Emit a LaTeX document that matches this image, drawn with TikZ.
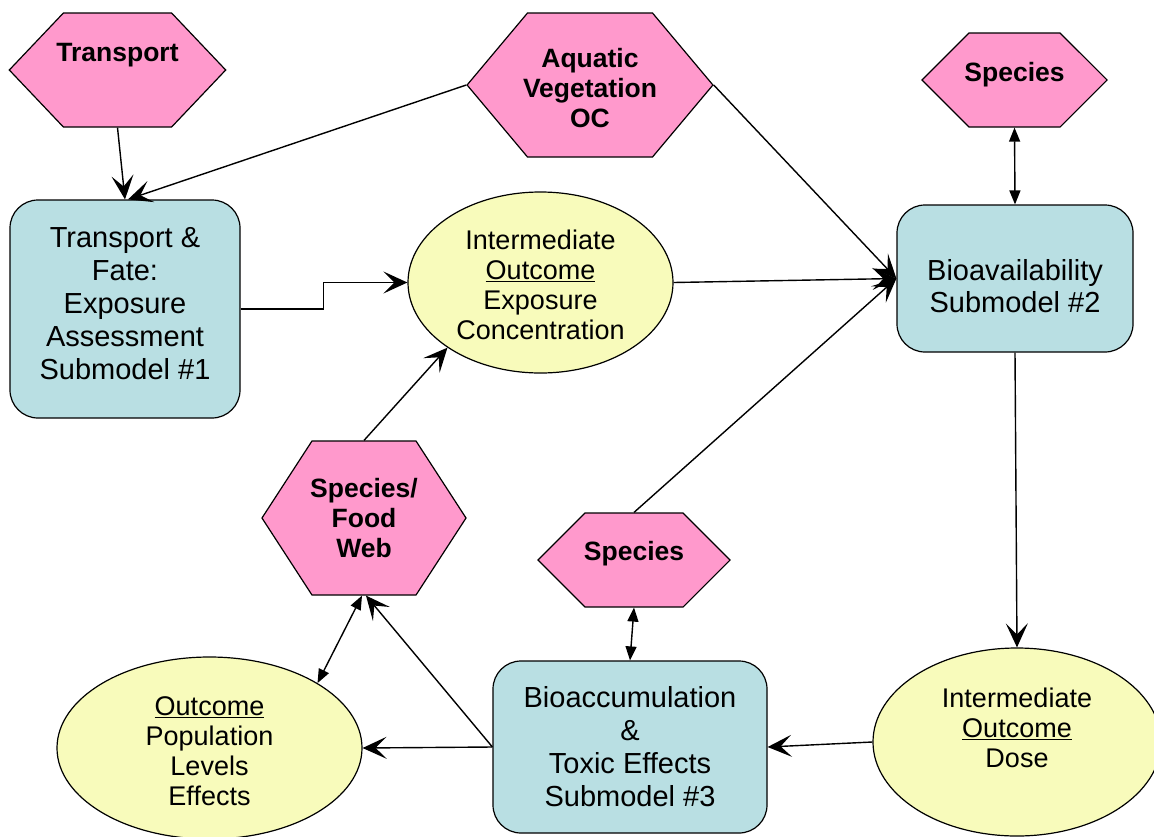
\documentclass[tikz,border=0pt]{standalone}
\usepackage{fontspec}
\setmainfont{Liberation Sans}
\usetikzlibrary{shapes.geometric,shapes.symbols,arrows.meta}
\definecolor{hexpink}{HTML}{FF99CC}
\definecolor{boxblue}{HTML}{B9DFE3}
\definecolor{ovalyel}{HTML}{F8FBBB}
\tikzset{
  hexnode/.style={shape=signal, signal to=west and east, draw=black, line width=1.2pt,
    fill=hexpink, font=\bfseries\fontsize{26.5}{30}\selectfont, align=center, inner ysep=0pt},
  boxnode/.style={rectangle, rounded corners=28pt, draw=black, line width=1.2pt, fill=boxblue,
    font=\fontsize{29}{33}\selectfont, align=center, inner sep=0pt},
  ovalnode/.style={ellipse, draw=black, line width=1.2pt, fill=ovalyel,
    font=\fontsize{27}{30}\selectfont, align=center, inner sep=0pt},
  conn/.style={line width=1.4pt, -{Stealth[length=24pt,width=22pt,inset=11pt]}},
  dbl/.style={line width=1.4pt, {Triangle[length=14pt,width=11pt]}-{Triangle[length=14pt,width=11pt]}}
}
\begin{document}
\begin{tikzpicture}[x=1pt,y=-1pt]
\path[use as bounding box] (0,0) rectangle (1154,836);

% hexagons
\node[hexnode, inner xsep=-7pt, minimum height=114pt, signal pointer angle=93,
      text height=19pt, text depth=37pt] (tr) at (117.5,70) {Transport};
\node[hexnode, inner xsep=-4.5pt, minimum height=144pt, signal pointer angle=100] (aq) at (590,85)
      {\mbox{}\\[-4.7pt]Aquatic\\Vegetation\\OC};
\node[hexnode, inner xsep=-4.5pt, minimum height=94pt, signal pointer angle=90,
      text height=19pt, text depth=17pt] (sp1) at (1014.5,80) {Species};
\node[hexnode, inner xsep=-1.75pt, minimum height=154pt, signal pointer angle=114] (sfw) at (364,518)
      {Species/\\Food\\Web};
\node[hexnode, inner xsep=-1pt, minimum height=94pt, signal pointer angle=90,
      text height=19pt, text depth=19pt] (sp2) at (634,560) {Species};

% boxes
\node[boxnode, minimum width=230pt, minimum height=218pt] (b1) at (125,309)
      {Transport \&\\Fate:\\Exposure\\Assessment\\Submodel \#1\\[-22.5pt]};
\node[boxnode, minimum width=236pt, minimum height=147pt] (b2) at (1015,278.5)
      {\mbox{}\\[3pt]Bioavailability\\[-1pt]Submodel \#2};
\node[boxnode, minimum width=274pt, minimum height=172pt] (b3) at (630,747)
      {Bioaccumulation\\\&\\Toxic Effects\\Submodel \#3};

% ellipses
\node[ovalnode, minimum width=265pt, minimum height=181pt] (e1) at (540.5,282.5)
      {\mbox{}\\[-5.5pt]Intermediate\\\underline{Outcome}\\Exposure\\Concentration};
\node[ovalnode, minimum width=288pt, minimum height=188pt] (e2) at (1017,742)
      {Intermediate\\\underline{Outcome}\\Dose\\[-2pt]};
\node[ovalnode, minimum width=305pt, minimum height=182pt] (e3) at (209.5,748)
      {\mbox{}\\[-4.3pt]\underline{Outcome}\\Population\\Levels\\Effects};

% connectors
\draw[conn] (tr.south) -- (b1.north);
\draw[conn] (aq.west) -- ([xshift=3pt]b1.north);
\draw[conn] (aq.east) -- (b2.west);
\draw[conn] (e1.east) -- (b2.west);
\draw[conn] (sp2.north) -- (b2.west);
\draw[conn] (b1.east) -- ++(83,0) |- (e1.west);
\draw[conn] (sfw.north) -- (e1.215);
\draw[dbl] (sp1.south) -- (b2.north);
\draw[conn] (b2.south) -- (e2.north);
\draw[conn] (e2.west) -- (b3.east);
\draw[conn] (b3.west) -- (e3.east);
\draw[conn] (b3.west) -- ([xshift=2pt]sfw.south);
\draw[dbl] (e3.31) -- ([xshift=-2pt]sfw.south);
\draw[dbl] (sp2.south) -- (b3.north);
\end{tikzpicture}
\end{document}
